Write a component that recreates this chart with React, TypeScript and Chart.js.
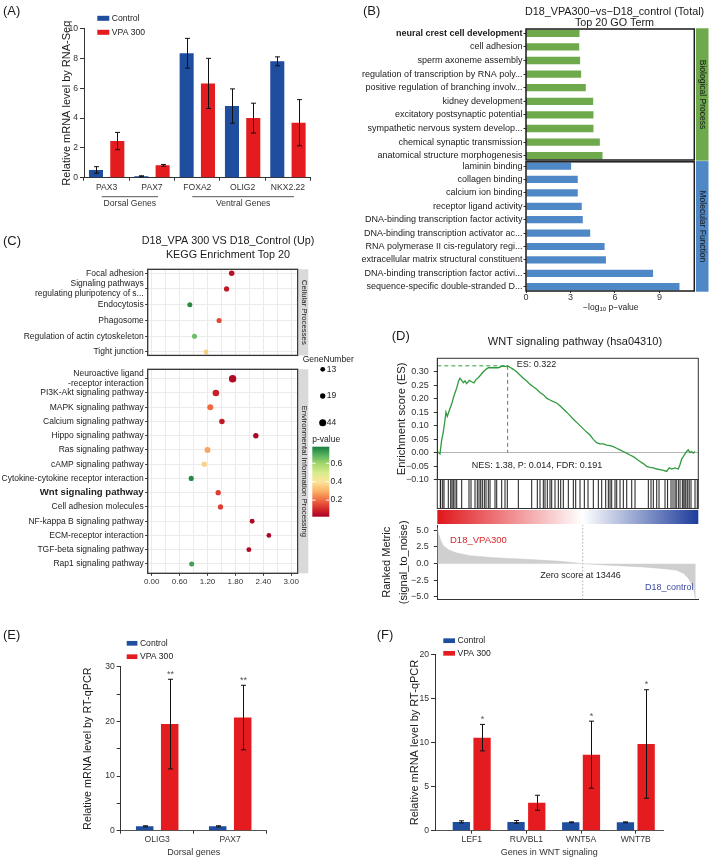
import React, { useEffect, useRef } from "react";
import { Chart, registerables } from "chart.js";

Chart.register(...registerables);

const FONT = "'Liberation Sans', Arial, Helvetica, sans-serif";
const BLUE = "#1f4e9f";
const RED = "#e41b1f";
const GREEN_GO = "#6ea94b";
const BLUE_GO = "#4f88c6";
const ES_GREEN = "#2f9b3e";
const AXIS = "#333333";
const TICK = "#333333";
const GRID = "#ebebeb";

// ===== (A) RNA-Seq =====
const genesA = ["PAX3", "PAX7", "FOXA2", "OLIG2", "NKX2.22"];
const controlA = [0.52, 0.1, 8.35, 4.81, 7.81];
const controlErrA = [0.22, 0.03, 1.0, 1.15, 0.3];
const vpaA = [2.46, 0.83, 6.33, 4.0, 3.69];
const vpaErrA = [0.58, 0.06, 1.68, 1.0, 1.55];
const groupNamesA = ["Dorsal Genes", "Ventral Genes"];
const groupFirstA = [0, 2];
const groupLastA = [1, 4];

// ===== (B) GO terms =====
const bpTerms = [
  "neural crest cell development",
  "cell adhesion",
  "sperm axoneme assembly",
  "regulation of transcription by RNA poly...",
  "positive regulation of branching involv...",
  "kidney development",
  "excitatory postsynaptic potential",
  "sympathetic nervous system develop...",
  "chemical synaptic transmission",
  "anatomical structure morphogenesis",
];
const bpValues = [3.61, 3.59, 3.65, 3.72, 4.03, 4.53, 4.55, 4.55, 4.98, 5.16];
const mfTerms = [
  "laminin binding",
  "collagen binding",
  "calcium ion binding",
  "receptor ligand activity",
  "DNA-binding transcription factor activity",
  "DNA-binding transcription activator ac...",
  "RNA polymerase II cis-regulatory regi...",
  "extracellular matrix structural constituent",
  "DNA-binding transcription factor activi...",
  "sequence-specific double-stranded D...",
];
const mfValues = [3.04, 3.49, 3.49, 3.76, 3.83, 4.33, 5.3, 5.39, 8.57, 10.35];
const goTicks = [0, 3, 6, 9];
const goHighlight = "neural crest cell development";

// ===== (C) KEGG =====
const cpTerms: any[] = [
  "Focal adhesion",
  ["Signaling pathways", "regulating pluripotency of s..."],
  "Endocytosis",
  "Phagosome",
  "Regulation of actin cytoskeleton",
  "Tight junction",
];
const cpRich = [1.72, 1.61, 0.82, 1.45, 0.92, 1.17];
const cpGenes = [22, 18, 16, 17, 17, 15];
const cpP = [0.05, 0.07, 0.76, 0.15, 0.66, 0.35];
const eipTerms: any[] = [
  ["Neuroactive ligand", "-receptor interaction"],
  "PI3K-Akt signaling pathway",
  "MAPK signaling pathway",
  "Calcium signaling pathway",
  "Hippo signaling pathway",
  "Ras signaling pathway",
  "cAMP signaling pathway",
  "Cytokine-cytokine receptor interaction",
  "Wnt signaling pathway",
  "Cell adhesion molecules",
  "NF-kappa B signaling pathway",
  "ECM-receptor interaction",
  "TGF-beta signaling pathway",
  "Rap1 signaling pathway",
];
const eipRich = [1.74, 1.38, 1.26, 1.51, 2.24, 1.2, 1.13, 0.85, 1.43, 1.48, 2.16, 2.52, 2.09, 0.86];
const eipGenes = [51, 37, 28, 22, 20, 26, 19, 17, 19, 18, 15, 13, 15, 16];
const eipP = [0.04, 0.08, 0.2, 0.07, 0.03, 0.28, 0.36, 0.76, 0.13, 0.13, 0.04, 0.03, 0.04, 0.72];
const keggHighlight = "Wnt signaling pathway";
const richTicks = [0, 0.3, 0.6, 0.9, 1.2, 1.5, 1.8, 2.1, 2.4, 2.7, 3.0];
const geneLegend = [13, 19, 44];
const pLegendTicks = [0.6, 0.4, 0.2];

// ===== (D) GSEA =====
const totalGenes = 24140;
const esRank = [0, 247, 401, 555, 709, 802, 925, 1110, 1326, 1542, 1788, 1973, 2096, 2251, 2405, 2559, 2713, 2960, 3175, 3391, 3576, 3792, 4008, 4255, 4501, 4717, 5025, 5334, 5642, 5950, 6166, 6351, 6505, 6721, 7029, 7338, 7646, 7954, 8262, 8571, 8879, 9187, 9496, 9804, 10112, 10421, 10729, 11037, 11345, 11654, 11962, 12270, 12579, 12887, 13195, 13503, 13812, 14120, 14428, 14737, 15045, 15353, 15662, 15970, 16278, 16586, 16895, 17203, 17511, 17820, 18128, 18436, 18745, 19053, 19361, 19670, 19978, 20286, 20595, 20903, 21211, 21458, 21674, 21982, 22290, 22444, 22598, 22752, 22907, 23061, 23215, 23369, 23523, 23677, 23832];
const esScore = [0.004, -0.005, 0.046, 0.077, 0.12, 0.15, 0.134, 0.156, 0.18, 0.211, 0.239, 0.266, 0.276, 0.268, 0.259, 0.266, 0.256, 0.268, 0.263, 0.259, 0.271, 0.278, 0.288, 0.3, 0.309, 0.315, 0.315, 0.315, 0.315, 0.32, 0.321, 0.319, 0.322, 0.317, 0.309, 0.3, 0.288, 0.276, 0.266, 0.254, 0.244, 0.235, 0.223, 0.215, 0.202, 0.195, 0.189, 0.184, 0.174, 0.162, 0.15, 0.137, 0.124, 0.112, 0.1, 0.088, 0.076, 0.065, 0.049, 0.037, 0.032, 0.032, 0.028, 0.026, 0.022, 0.016, 0.01, 0.004, -0.002, -0.009, -0.015, -0.024, -0.033, -0.041, -0.051, -0.055, -0.057, -0.061, -0.063, -0.066, -0.07, -0.057, -0.061, -0.057, -0.061, -0.045, -0.024, -0.015, -0.005, 0.004, 0.01, 0.0, 0.004, -0.002, 0.004];
const peakRank = 6505;
const peakES = 0.322;
const statsText = "NES: 1.38, P: 0.014, FDR: 0.191";
const esTicks = [-0.1, -0.05, 0, 0.05, 0.1, 0.15, 0.2, 0.25, 0.3];
const hitRanks = [280, 315, 500, 620, 1018, 1240, 1360, 1480, 1637, 1795, 2257, 2932, 3117, 3487, 3700, 3857, 4015, 4163, 4348, 4505, 4718, 4875, 5337, 5495, 5957, 6262, 6475, 7493, 8732, 9250, 9500, 9805, 9962, 10175, 10425, 10582, 10887, 11193, 11415, 11655, 12118, 12580, 12802, 13200, 13598, 13940, 14430, 14893, 15207, 15577, 15818, 15975, 16132, 16437, 16595, 16900, 17205, 17520, 17982, 18287, 19518, 19767, 19980, 20295, 20507, 21062, 21300, 21617, 21800, 21987, 22100, 22293, 22450, 22663, 22800, 22912, 23000, 23162, 23300, 23467, 23837, 24050];
const metricRank = [0, 123, 308, 555, 1017, 1788, 3022, 5180, 8263, 11347, 13446, 15975, 19058, 21217, 22137, 22800, 23215, 23677, 23832, 23900];
const metricValue = [5.4, 4.45, 3.5, 2.7, 2.1, 1.6, 1.2, 0.9, 0.65, 0.35, 0, -0.25, -0.5, -0.8, -1.0, -1.5, -2.2, -3.5, -5.0, -5.3];
const metricTicks = [-5, -2.5, 0, 2.5, 5];
const zeroRank = 13446;
const posLabel = "D18_VPA300";
const negLabel = "D18_control";

// ===== (E) RT-qPCR dorsal =====
const genesE = ["OLIG3", "PAX7"];
const controlE = [0.8, 0.8];
const controlErrE = [0.1, 0.1];
const vpaE = [19.5, 20.7];
const vpaErrE = [8.2, 5.9];
const sigE = ["**", "**"];

// ===== (F) RT-qPCR WNT =====
const genesF = ["LEF1", "RUVBL1", "WNT5A", "WNT7B"];
const controlF = [1.0, 1.0, 0.95, 0.95];
const controlErrF = [0.12, 0.15, 0.05, 0.05];
const vpaF = [10.55, 3.17, 8.62, 9.83];
const vpaErrF = [1.5, 0.85, 3.8, 6.15];
const sigF = ["*", "", "*", "*"];
const ticksF = [0, 1, 2, 3];

// ===== layout =====
type Box = { left: number; top: number; width: number; height: number };
const BOX: Record<string, Box> = {
  A: { left: 0, top: 0, width: 360, height: 215 },
  BP: { left: 360, top: 0, width: 349, height: 172 },
  MF: { left: 360, top: 150, width: 349, height: 171 },
  C1: { left: 0, top: 228, width: 360, height: 134 },
  C2: { left: 0, top: 340, width: 360, height: 252 },
  D1: { left: 360, top: 325, width: 349, height: 167 },
  D2: { left: 360, top: 479, width: 349, height: 47 },
  D3: { left: 360, top: 510, width: 349, height: 100 },
  E: { left: 0, top: 620, width: 360, height: 238 },
  F: { left: 360, top: 620, width: 349, height: 238 },
};

function fixLayout(box: Box, a: any, padLeft: number, hideX = false) {
  const xH = box.top + box.height - a.b;
  return {
    padding: { left: padLeft, top: a.t - box.top, right: box.left + box.width - a.r, bottom: hideX ? xH : 0 },
    yW: a.l - box.left - padLeft,
    xH,
  };
}

const P_STOPS: [number, string][] = [
  [0.02, "#a50026"], [0.1, "#d3282a"], [0.2, "#f06a42"], [0.3, "#fbb366"], [0.4, "#fbe59a"],
  [0.5, "#d6ec8c"], [0.6, "#a3d56a"], [0.68, "#5cb562"], [0.78, "#1b7e3e"],
];
function hexRgb(h: string) {
  return [parseInt(h.slice(1, 3), 16), parseInt(h.slice(3, 5), 16), parseInt(h.slice(5, 7), 16)];
}
function pColor(p: number) {
  const s = P_STOPS;
  if (p <= s[0][0]) return s[0][1];
  if (p >= s[s.length - 1][0]) return s[s.length - 1][1];
  for (let i = 1; i < s.length; i++) {
    if (p <= s[i][0]) {
      const t = (p - s[i - 1][0]) / (s[i][0] - s[i - 1][0]);
      const a = hexRgb(s[i - 1][1]);
      const b = hexRgb(s[i][1]);
      return `rgb(${Math.round(a[0] + (b[0] - a[0]) * t)},${Math.round(a[1] + (b[1] - a[1]) * t)},${Math.round(a[2] + (b[2] - a[2]) * t)})`;
    }
  }
  return s[s.length - 1][1];
}
const dotRadius = (n: number) => 1.0 + 0.38 * Math.sqrt(n);
const signed = (v: number, d: number) => (v < -1e-9 ? "\u2212" : "") + Math.abs(v).toFixed(d);

function txt(ctx: any, box: Box, s: string, x: number, y: number, o: any = {}) {
  ctx.save();
  ctx.font = `${o.weight || "normal"} ${o.size || 9}px ${FONT}`;
  ctx.fillStyle = o.color || "#1a1a1a";
  ctx.textAlign = o.align || "center";
  ctx.textBaseline = o.baseline || "middle";
  ctx.translate(x - box.left, y - box.top);
  if (o.rot) ctx.rotate(o.rot);
  ctx.fillText(s, 0, 0);
  ctx.restore();
}
function fillR(ctx: any, box: Box, x1: number, y1: number, x2: number, y2: number, color: any) {
  ctx.save();
  ctx.fillStyle = color;
  ctx.fillRect(x1 - box.left, y1 - box.top, x2 - x1, y2 - y1);
  ctx.restore();
}
function strokeR(ctx: any, box: Box, x1: number, y1: number, x2: number, y2: number, color: string, w: number) {
  ctx.save();
  ctx.strokeStyle = color;
  ctx.lineWidth = w;
  ctx.strokeRect(x1 - box.left, y1 - box.top, x2 - x1, y2 - y1);
  ctx.restore();
}
function seg(ctx: any, box: Box, x1: number, y1: number, x2: number, y2: number, color: string, w: number) {
  ctx.save();
  ctx.strokeStyle = color;
  ctx.lineWidth = w;
  ctx.beginPath();
  ctx.moveTo(x1 - box.left, y1 - box.top);
  ctx.lineTo(x2 - box.left, y2 - box.top);
  ctx.stroke();
  ctx.restore();
}
function areaAbs(c: any, box: Box) {
  const a = c.chartArea;
  return { l: a.left + box.left, t: a.top + box.top, r: a.right + box.left, b: a.bottom + box.top };
}
function legendAt(ctx: any, box: Box, x: number, y0: number, dy: number, names: string[], colors: string[], w: number, h: number, size: number) {
  names.forEach((n, i) => {
    const y = y0 + i * dy;
    fillR(ctx, box, x, y - h / 2, x + w, y + h / 2, colors[i]);
    txt(ctx, box, n, x + w + 2.5, y, { size, align: "left", color: "#222" });
  });
}

const errorBars = {
  id: "errorBars",
  afterDatasetsDraw(chart: any) {
    const ctx = chart.ctx;
    const ys = chart.scales.y;
    chart.data.datasets.forEach((ds: any, di: number) => {
      if (!ds.errs) return;
      const meta = chart.getDatasetMeta(di);
      meta.data.forEach((el: any, i: number) => {
        const raw = ds.data[i];
        const v = typeof raw === "number" ? raw : raw.y;
        const e = ds.errs[i];
        const x = Math.round(el.x) + 0.5;
        const y1 = ys.getPixelForValue(v + e);
        const y2 = ys.getPixelForValue(v - e);
        ctx.save();
        ctx.strokeStyle = "#111";
        ctx.lineWidth = 1;
        ctx.beginPath();
        ctx.moveTo(x, y1);
        ctx.lineTo(x, y2);
        ctx.moveTo(x - 2.5, y1);
        ctx.lineTo(x + 2.5, y1);
        ctx.moveTo(x - 2.5, y2);
        ctx.lineTo(x + 2.5, y2);
        ctx.stroke();
        if (ds.sig && ds.sig[i]) {
          ctx.font = `9px ${FONT}`;
          ctx.fillStyle = "#555";
          ctx.textAlign = "center";
          ctx.textBaseline = "middle";
          ctx.fillText(ds.sig[i], x, y1 - 5);
        }
        ctx.restore();
      });
    });
  },
};

export default function App() {
  const refs = useRef<Record<string, HTMLCanvasElement | null>>({});

  useEffect(() => {
    const charts: any[] = [];
    const make = (key: string, cfg: any) => {
      const cv = refs.current[key];
      if (cv) charts.push(new Chart(cv, cfg));
    };
    const base = (padding: any) => ({
      responsive: false,
      animation: false,
      devicePixelRatio: 1,
      events: [],
      layout: { padding, autoPadding: false },
      plugins: { legend: { display: false }, tooltip: { enabled: false } },
    });
    const f = (size: number, extra: any = {}) => ({ family: FONT, size, ...extra });

    // ---------- A ----------
    {
      const box = BOX.A;
      const L = fixLayout(box, { l: 84, t: 28.7, r: 310.6, b: 177.7 }, 56);
      make("A", {
        type: "bar",
        data: {
          labels: genesA,
          datasets: [
            { label: "Control", data: controlA, errs: controlErrA, backgroundColor: BLUE, categoryPercentage: 0.94, barPercentage: 0.66 },
            { label: "VPA 300", data: vpaA, errs: vpaErrA, backgroundColor: RED, categoryPercentage: 0.94, barPercentage: 0.66 },
          ],
        },
        options: {
          ...base(L.padding),
          scales: {
            x: {
              grid: { drawOnChartArea: false, tickLength: 3, color: AXIS },
              border: { color: AXIS },
              ticks: { font: f(8.6), color: TICK, padding: 2, maxRotation: 0, autoSkip: false },
              afterFit: (s: any) => { s.height = L.xH; },
            },
            y: {
              min: 0, max: 10,
              grid: { drawOnChartArea: false, tickLength: 4, color: AXIS },
              border: { color: AXIS },
              ticks: { stepSize: 2, font: f(8.6), color: TICK, padding: 2 },
              title: { display: true, text: "Relative mRNA level by RNA-Seq", font: f(11), color: "#1a1a1a", padding: { top: 4, bottom: 4 } },
              afterFit: (s: any) => { s.width = L.yW; },
            },
          },
        },
        plugins: [
          errorBars,
          {
            id: "aExtra",
            afterDraw(c: any) {
              const ctx = c.ctx;
              txt(ctx, box, "(A)", 3, 11.5, { size: 13, align: "left" });
              legendAt(ctx, box, 97.3, 18.3, 14, ["Control", "VPA 300"], [BLUE, RED], 12, 5, 8.6);
              const xs = c.scales.x;
              groupNamesA.forEach((g, i) => {
                const x1 = xs.getPixelForValue(groupFirstA[i]) + box.left - 5;
                const x2 = xs.getPixelForValue(groupLastA[i]) + box.left + 6;
                seg(ctx, box, x1, 196.7, x2, 196.7, "#555", 1);
                txt(ctx, box, g, (x1 + x2) / 2, 203.5, { size: 8.6, color: TICK });
              });
            },
          },
        ],
      });
    }

    // ---------- B ----------
    const goY = (terms: string[], L: any, min: number, max: number) => ({
      type: "linear", reverse: true, min, max, offset: false,
      afterBuildTicks: (s: any) => { s.ticks = terms.map((_, i) => ({ value: i })); },
      grid: { drawOnChartArea: false, tickLength: 2.5, color: AXIS, offset: false },
      border: { display: false },
      ticks: {
        autoSkip: false, padding: 1, color: "#1a1a1a",
        callback: (v: any) => terms[Math.round(v)],
        font: (c: any) => f(9, { weight: c.tick && terms[Math.round(c.tick.value)] === goHighlight ? "bold" : "normal" }),
      },
      afterFit: (s: any) => { s.width = L.yW; },
    });
    {
      const box = BOX.BP;
      const L = fixLayout(box, { l: 526, t: 29, r: 694.3, b: 160 }, 0, true);
      make("BP", {
        type: "bar",
        data: { datasets: [{ data: bpValues.map((v, i) => ({ x: v, y: i })), backgroundColor: GREEN_GO, categoryPercentage: 1, barPercentage: 0.54 }] },
        options: {
          ...base(L.padding),
          indexAxis: "y",
          scales: {
            x: { type: "linear", display: false, min: 0, max: 11.35 },
            y: goY(bpTerms, L, -0.32, 9.32),
          },
        },
        plugins: [
          {
            id: "bpExtra",
            afterDraw(c: any) {
              const ctx = c.ctx;
              const a = areaAbs(c, box);
              strokeR(ctx, box, a.l, a.t, a.r, a.b, "#1a1a1a", 1.5);
              fillR(ctx, box, 696, a.t - 0.7, 708.5, a.b + 0.7, GREEN_GO);
              txt(ctx, box, "Biological Process", 702.3, (a.t + a.b) / 2, { size: 8.5, rot: Math.PI / 2, color: "#1a1a1a" });
              txt(ctx, box, "(B)", 363, 11.7, { size: 13, align: "left" });
              txt(ctx, box, "D18_VPA300\u2212vs\u2212D18_control (Total)", 614.5, 11.7, { size: 10.8 });
              txt(ctx, box, "Top 20 GO Term", 614.5, 22.7, { size: 10.8 });
            },
          },
        ],
      });
    }
    {
      const box = BOX.MF;
      const L = fixLayout(box, { l: 526, t: 161.8, r: 694.3, b: 291 }, 0);
      make("MF", {
        type: "bar",
        data: { datasets: [{ data: mfValues.map((v, i) => ({ x: v, y: i })), backgroundColor: BLUE_GO, categoryPercentage: 1, barPercentage: 0.54 }] },
        options: {
          ...base(L.padding),
          indexAxis: "y",
          scales: {
            x: {
              type: "linear", min: 0, max: 11.35, offset: false,
              afterBuildTicks: (s: any) => { s.ticks = goTicks.map((v) => ({ value: v })); },
              grid: { drawOnChartArea: false, tickLength: 2, color: AXIS },
              border: { display: false },
              ticks: { font: f(9, { lineHeight: 1 }), color: TICK, padding: 0.5, maxRotation: 0, autoSkip: false },
              afterFit: (s: any) => { s.height = L.xH; },
            },
            y: goY(mfTerms, L, -0.32, 9.32),
          },
        },
        plugins: [
          {
            id: "mfExtra",
            afterDraw(c: any) {
              const ctx = c.ctx;
              const a = areaAbs(c, box);
              strokeR(ctx, box, a.l, a.t, a.r, a.b, "#1a1a1a", 1.5);
              fillR(ctx, box, 696, a.t - 0.7, 708.5, a.b + 0.7, BLUE_GO);
              txt(ctx, box, "Molecular Function", 702.3, (a.t + a.b) / 2, { size: 8.5, rot: Math.PI / 2, color: "#1a1a1a" });
              ctx.save();
              const s1 = "\u2212log", s2 = "10", s3 = " p\u2212value";
              ctx.font = `8.5px ${FONT}`;
              const w1 = ctx.measureText(s1).width, w3 = ctx.measureText(s3).width;
              ctx.font = `6px ${FONT}`;
              const w2 = ctx.measureText(s2).width;
              ctx.restore();
              const x0 = 610.8 - (w1 + w2 + w3) / 2;
              txt(ctx, box, s1, x0, 307.3, { size: 8.5, align: "left", color: "#222" });
              txt(ctx, box, s2, x0 + w1, 309.5, { size: 6, align: "left", color: "#222" });
              txt(ctx, box, s3, x0 + w1 + w2, 307.3, { size: 8.5, align: "left", color: "#222" });
            },
          },
        ],
      });
    }

    // ---------- C ----------
    const keggX = (L: any, showTicks: boolean) => ({
      type: "linear", min: -0.086, max: 3.14,
      afterBuildTicks: (s: any) => { s.ticks = richTicks.map((v) => ({ value: v })); },
      grid: {
        color: GRID,
        drawTicks: showTicks,
        tickLength: 2.5,
        tickColor: (c: any) => (c.tick && Math.round(c.tick.value / 0.3) % 2 === 0 ? AXIS : "rgba(0,0,0,0)"),
      },
      border: { display: false },
      ticks: {
        display: showTicks, autoSkip: false, maxRotation: 0, padding: 1, color: TICK, font: f(8),
        callback: (v: any) => (Math.round(v / 0.3) % 2 === 0 ? Number(v).toFixed(2) : ""),
      },
      afterFit: (s: any) => { s.height = L.xH; },
    });
    const keggY = (terms: any[], L: any, min: number, max: number) => ({
      type: "linear", reverse: true, min, max,
      afterBuildTicks: (s: any) => { s.ticks = terms.map((_, i) => ({ value: i })); },
      grid: { color: GRID, tickColor: AXIS, tickLength: 2.5 },
      border: { display: false },
      ticks: {
        autoSkip: false, padding: 1.5, color: "#222",
        callback: (v: any) => terms[Math.round(v)],
        font: (c: any) => (c.tick && terms[Math.round(c.tick.value)] === keggHighlight ? f(9.6, { weight: "bold" }) : f(8.5)),
      },
      afterFit: (s: any) => { s.width = L.yW; },
    });
    const strip = (ctx: any, box: Box, a: any, label: string) => {
      fillR(ctx, box, 299, a.t, 308.3, a.b, "#d9d9d9");
      txt(ctx, box, label, 303.7, (a.t + a.b) / 2, { size: 7.8, rot: Math.PI / 2, color: "#1a1a1a" });
    };
    {
      const box = BOX.C1;
      const L = fixLayout(box, { l: 147.7, t: 269.3, r: 297.7, b: 356.7 }, 0);
      make("C1", {
        type: "bubble",
        data: { datasets: [{ data: cpRich.map((x, i) => ({ x, y: i, r: dotRadius(cpGenes[i]) })), backgroundColor: cpP.map(pColor), borderWidth: 0 }] },
        options: {
          ...base(L.padding),
          scales: { x: keggX(L, false), y: keggY(cpTerms, L, -0.25, 5.22) },
        },
        plugins: [
          {
            id: "c1Extra",
            afterDraw(c: any) {
              const ctx = c.ctx;
              const a = areaAbs(c, box);
              strokeR(ctx, box, a.l, a.t, a.r, a.b, "#333", 1.3);
              strip(ctx, box, a, "Cellular Processes");
              txt(ctx, box, "(C)", 3, 241.7, { size: 13, align: "left" });
              txt(ctx, box, "D18_VPA 300 VS D18_Control (Up)", 228, 240.7, { size: 10.8 });
              txt(ctx, box, "KEGG Enrichment Top 20", 228, 255, { size: 10.8 });
            },
          },
        ],
      });
    }
    {
      const box = BOX.C2;
      const L = fixLayout(box, { l: 147.7, t: 369.3, r: 297.7, b: 573.3 }, 0);
      make("C2", {
        type: "bubble",
        data: { datasets: [{ data: eipRich.map((x, i) => ({ x, y: i, r: dotRadius(eipGenes[i]) })), backgroundColor: eipP.map(pColor), borderWidth: 0 }] },
        options: {
          ...base(L.padding),
          scales: { x: keggX(L, true), y: keggY(eipTerms, L, -0.66, 13.66) },
        },
        plugins: [
          {
            id: "c2Extra",
            afterDraw(c: any) {
              const ctx = c.ctx;
              const a = areaAbs(c, box);
              strokeR(ctx, box, a.l, a.t, a.r, a.b, "#333", 1.3);
              strip(ctx, box, a, "Environmental Information Processing");
              txt(ctx, box, "GeneNumber", 302.7, 360, { size: 8.5, align: "left" });
              const ly = [369.3, 396, 422.7];
              geneLegend.forEach((n, i) => {
                ctx.save();
                ctx.fillStyle = "#000";
                ctx.beginPath();
                ctx.arc(322.7 - box.left, ly[i] - box.top, dotRadius(n), 0, Math.PI * 2);
                ctx.fill();
                ctx.restore();
                txt(ctx, box, String(n), 326.7, ly[i], { size: 8.5, align: "left", color: "#222" });
              });
              txt(ctx, box, "p-value", 312.3, 439.3, { size: 8.5, align: "left" });
              const pMin = P_STOPS[0][0], pMax = P_STOPS[P_STOPS.length - 1][0];
              const yTop = 446.7, yBot = 516.7;
              const g = ctx.createLinearGradient(0, yTop - box.top, 0, yBot - box.top);
              P_STOPS.forEach(([p, col]) => g.addColorStop((pMax - p) / (pMax - pMin), col));
              fillR(ctx, box, 312.3, yTop, 329.3, yBot, g);
              pLegendTicks.forEach((p) => {
                const y = yTop + ((pMax - p) / (pMax - pMin)) * (yBot - yTop);
                seg(ctx, box, 312.3, y, 315.5, y, "#fff", 1);
                seg(ctx, box, 326.1, y, 329.3, y, "#fff", 1);
                txt(ctx, box, p.toFixed(1), 330.5, y, { size: 8.5, align: "left", color: "#222" });
              });
            },
          },
        ],
      });
    }

    // ---------- D1 (ES) ----------
    {
      const box = BOX.D1;
      const L = fixLayout(box, { l: 437.3, t: 358.3, r: 698.3, b: 479.5 }, 31, true);
      make("D1", {
        type: "line",
        data: {
          datasets: [
            { data: esRank.map((x, i) => ({ x, y: esScore[i] })), borderColor: ES_GREEN, borderWidth: 1.3, pointRadius: 0, tension: 0 },
            { data: [{ x: 0, y: peakES }, { x: peakRank, y: peakES }], borderColor: ES_GREEN, borderWidth: 1, borderDash: [4, 3], pointRadius: 0 },
            { data: [{ x: peakRank, y: peakES }, { x: peakRank, y: 0 }], borderColor: ES_GREEN, borderWidth: 1, borderDash: [4, 3], pointRadius: 0 },
          ],
        },
        options: {
          ...base(L.padding),
          scales: {
            x: { type: "linear", display: false, min: 0, max: totalGenes },
            y: {
              type: "linear", min: -0.1, max: 0.35,
              afterBuildTicks: (s: any) => { s.ticks = esTicks.map((v) => ({ value: v })); },
              grid: { color: (c: any) => (c.tick && Math.abs(c.tick.value) < 1e-9 ? "#b5b5b5" : "rgba(0,0,0,0)"), tickColor: AXIS, tickLength: 3.5 },
              border: { color: AXIS },
              ticks: { font: f(9), color: TICK, padding: 5, autoSkip: false, callback: (v: any) => signed(v, 2) },
              title: { display: true, text: "Enrichment score (ES)", font: f(11.2), color: "#1a1a1a", padding: { top: 4, bottom: 4 } },
              afterFit: (s: any) => { s.width = L.yW; },
            },
          },
        },
        plugins: [
          {
            id: "d1Extra",
            afterDraw(c: any) {
              const ctx = c.ctx;
              const a = areaAbs(c, box);
              strokeR(ctx, box, a.l, a.t, a.r, a.b, "#333", 1);
              txt(ctx, box, "(D)", 391.7, 336.7, { size: 13, align: "left" });
              txt(ctx, box, "WNT signaling pathway (hsa04310)", 575, 341.7, { size: 11 });
              txt(ctx, box, "ES: " + peakES.toFixed(3), 516.7, 365, { size: 9, align: "left", color: "#222" });
              txt(ctx, box, statsText, 471.7, 465.7, { size: 9, align: "left", color: "#222" });
            },
          },
        ],
      });
    }
    // ---------- D2 (hits + gradient) ----------
    {
      const box = BOX.D2;
      const L = fixLayout(box, { l: 437.3, t: 479.5, r: 698.3, b: 508.5 }, 437.3 - 360, true);
      make("D2", {
        type: "scatter",
        data: { datasets: [{ data: hitRanks.map((x) => ({ x, y: 0.5 })), pointStyle: "line", rotation: 90, radius: 14.5, borderWidth: 1, borderColor: "#1a1a1a" }] },
        options: {
          ...base(L.padding),
          scales: {
            x: { type: "linear", display: false, min: 0, max: totalGenes },
            y: { type: "linear", display: false, min: 0, max: 1 },
          },
        },
        plugins: [
          {
            id: "d2Extra",
            afterDraw(c: any) {
              const ctx = c.ctx;
              const a = areaAbs(c, box);
              strokeR(ctx, box, a.l, a.t, a.r, a.b, "#333", 1);
              const g = ctx.createLinearGradient(a.l - box.left, 0, a.r - box.left, 0);
              g.addColorStop(0, "#e0161b");
              g.addColorStop(zeroRank / totalGenes, "#ffffff");
              g.addColorStop(1, "#1d3c9b");
              fillR(ctx, box, a.l, 510, a.r, 524, g);
            },
          },
        ],
      });
    }
    // ---------- D3 (ranked metric) ----------
    {
      const box = BOX.D3;
      const L = fixLayout(box, { l: 437.3, t: 525, r: 698.3, b: 600 }, 14);
      make("D3", {
        type: "line",
        data: {
          datasets: [
            { data: metricRank.map((x, i) => ({ x, y: metricValue[i] })), borderColor: "#c9c9c9", backgroundColor: "#cfcfcf", borderWidth: 0.5, fill: "origin", pointRadius: 0, tension: 0 },
            { data: [{ x: zeroRank, y: -5.4 }, { x: zeroRank, y: 5.8 }], borderColor: "#9a9a9a", borderWidth: 0.8, borderDash: [1.5, 2], pointRadius: 0 },
          ],
        },
        options: {
          ...base(L.padding),
          scales: {
            x: {
              type: "linear", min: 0, max: totalGenes,
              grid: { display: false },
              border: { color: AXIS },
              ticks: { display: false },
              afterFit: (s: any) => { s.height = L.xH; },
            },
            y: {
              type: "linear", min: -5.4, max: 5.8,
              afterBuildTicks: (s: any) => { s.ticks = metricTicks.map((v) => ({ value: v })); },
              grid: { drawOnChartArea: false, tickLength: 3.5, color: AXIS },
              border: { color: AXIS },
              ticks: { font: f(9), color: TICK, padding: 5, autoSkip: false, callback: (v: any) => signed(v, 1) },
              title: { display: true, text: ["Ranked Metric", "(signal_to_noise)"], font: f(11, { lineHeight: 1.6 }), color: "#1a1a1a", padding: { top: 4, bottom: 4 } },
              afterFit: (s: any) => { s.width = L.yW; },
            },
          },
        },
        plugins: [
          {
            id: "d3Extra",
            afterDraw(c: any) {
              const ctx = c.ctx;
              txt(ctx, box, posLabel, 450, 540, { size: 9.5, align: "left", color: "#d7262b" });
              txt(ctx, box, "Zero score at " + zeroRank, 580.5, 576, { size: 9, color: "#222" });
              txt(ctx, box, negLabel, 645, 587.3, { size: 9, align: "left", color: "#3b4aa0" });
            },
          },
        ],
      });
    }

    // ---------- E ----------
    {
      const box = BOX.E;
      const L = fixLayout(box, { l: 120.7, t: 666.7, r: 266.7, b: 830.7 }, 77.4);
      make("E", {
        type: "bar",
        data: {
          labels: genesE,
          datasets: [
            { data: controlE, errs: controlErrE, backgroundColor: BLUE, categoryPercentage: 0.685, barPercentage: 0.7 },
            { data: vpaE, errs: vpaErrE, sig: sigE, backgroundColor: RED, categoryPercentage: 0.685, barPercentage: 0.7 },
          ],
        },
        options: {
          ...base(L.padding),
          scales: {
            x: {
              grid: { drawOnChartArea: false, tickLength: 3, color: AXIS },
              border: { color: "#555" },
              ticks: { font: f(8.6), color: TICK, padding: 1, maxRotation: 0, autoSkip: false },
              title: { display: true, text: "Dorsal genes", font: f(9), color: "#333", padding: { top: 0, bottom: 0 } },
              afterFit: (s: any) => { s.height = L.xH; },
            },
            y: {
              min: 0, max: 30,
              grid: { drawOnChartArea: false, tickLength: 4, color: AXIS },
              border: { color: AXIS },
              ticks: { stepSize: 5, font: f(8.6), color: TICK, padding: 2, autoSkip: false, callback: (v: any) => (v % 10 === 0 ? String(v) : "") },
              title: { display: true, text: "Relative mRNA level by RT-qPCR", font: f(10.8), color: "#1a1a1a", padding: { top: 4, bottom: 4 } },
              afterFit: (s: any) => { s.width = L.yW; },
            },
          },
        },
        plugins: [
          errorBars,
          {
            id: "eExtra",
            afterDraw(c: any) {
              const ctx = c.ctx;
              txt(ctx, box, "(E)", 3, 635, { size: 13, align: "left" });
              legendAt(ctx, box, 126.7, 643.3, 13.4, ["Control", "VPA 300"], [BLUE, RED], 10.7, 4.7, 8.6);
            },
          },
        ],
      });
    }

    // ---------- F ----------
    {
      const box = BOX.F;
      const L = fixLayout(box, { l: 435, t: 654.3, r: 663.3, b: 830.7 }, 44.4);
      make("F", {
        type: "bar",
        data: {
          datasets: [
            { data: controlF.map((y, i) => ({ x: i, y })), errs: controlErrF, backgroundColor: BLUE, categoryPercentage: 0.757, barPercentage: 0.836 },
            { data: vpaF.map((y, i) => ({ x: i, y })), errs: vpaErrF, sig: sigF, backgroundColor: RED, categoryPercentage: 0.757, barPercentage: 0.836 },
          ],
        },
        options: {
          ...base(L.padding),
          scales: {
            x: {
              type: "linear", min: -0.671, max: 3.503, offset: false,
              afterBuildTicks: (s: any) => { s.ticks = ticksF.map((v) => ({ value: v })); },
              grid: { drawOnChartArea: false, tickLength: 3, color: AXIS, offset: false },
              border: { color: "#555" },
              ticks: { font: f(8.6), color: TICK, padding: 1, maxRotation: 0, autoSkip: false, callback: (v: any) => genesF[Math.round(v)] },
              title: { display: true, text: "Genes in WNT signaling", font: f(9), color: "#333", padding: { top: 0, bottom: 0 } },
              afterFit: (s: any) => { s.height = L.xH; },
            },
            y: {
              min: 0, max: 20,
              grid: { drawOnChartArea: false, tickLength: 4, color: AXIS },
              border: { color: AXIS },
              ticks: { stepSize: 5, font: f(8.6), color: TICK, padding: 2, autoSkip: false },
              title: { display: true, text: "Relative mRNA level by RT-qPCR", font: f(11), color: "#1a1a1a", padding: { top: 4, bottom: 4 } },
              afterFit: (s: any) => { s.width = L.yW; },
            },
          },
        },
        plugins: [
          errorBars,
          {
            id: "fExtra",
            afterDraw(c: any) {
              const ctx = c.ctx;
              txt(ctx, box, "(F)", 376.7, 635, { size: 13, align: "left" });
              legendAt(ctx, box, 443.3, 640.7, 12.6, ["Control", "VPA 300"], [BLUE, RED], 11.7, 4.7, 8.6);
            },
          },
        ],
      });
    }

    return () => charts.forEach((c) => c.destroy());
  }, []);

  return (
    <div style={{ position: "absolute", left: 0, top: 0, width: 709, height: 858, background: "#fff", overflow: "hidden" }}>
      {Object.entries(BOX).map(([k, b]) => (
        <canvas
          key={k}
          ref={(el) => { refs.current[k] = el; }}
          width={b.width}
          height={b.height}
          style={{ position: "absolute", left: b.left, top: b.top, width: b.width, height: b.height }}
        />
      ))}
    </div>
  );
}
